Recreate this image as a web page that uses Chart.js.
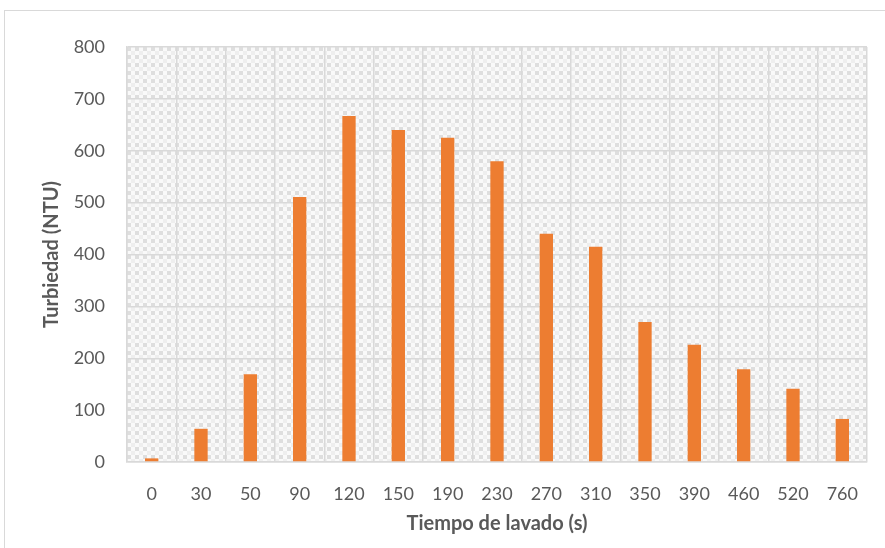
<!DOCTYPE html>
<html>
<head>
<meta charset="utf-8">
<script src="https://cdn.jsdelivr.net/npm/chart.js@4.4.0/dist/chart.umd.min.js"></script>
<style>
  html, body { margin: 0; padding: 0; background: #fff; }
  #wrap { width: 885px; height: 548px; }
</style>
</head>
<body>
<div id="wrap"><canvas id="c" width="885" height="548"></canvas></div>
<script>
const tiempos = ['0', '30', '50', '90', '120', '150', '190', '230', '270', '310', '350', '390', '460', '520', '760'];
const turbiedad = [7, 64, 169, 511, 667, 640, 625, 580, 440, 415, 270, 226, 179, 141, 83];
const yTicks = [0, 100, 200, 300, 400, 500, 600, 700, 800];

// checker pattern for the plot area
const tile = document.createElement('canvas');
tile.width = 8;
tile.height = 8;
const tctx = tile.getContext('2d');
tctx.fillStyle = '#f9f9f9';
tctx.fillRect(0, 0, 8, 8);
tctx.fillStyle = '#dedede';
tctx.fillRect(0, 0, 4, 4);
tctx.fillStyle = '#eeeeee';
tctx.fillRect(4, 4, 4, 4);

const backdrop = {
  id: 'backdrop',
  beforeDraw(chart) {
    const { ctx, chartArea: a } = chart;
    ctx.save();
    ctx.strokeStyle = '#d9d9d9';
    ctx.lineWidth = 1;
    ctx.strokeRect(4.5, 10.5, 885, 540);
    ctx.translate(a.left, a.top);
    ctx.fillStyle = ctx.createPattern(tile, 'repeat');
    ctx.fillRect(0, 0, a.right - a.left, a.bottom - a.top);
    ctx.restore();
  }
};

const font = "Lato, 'Open Sans', sans-serif";

new Chart(document.getElementById('c').getContext('2d'), {
  type: 'bar',
  data: {
    labels: tiempos,
    datasets: [{
      label: 'Turbiedad (NTU)',
      data: turbiedad,
      backgroundColor: '#ed7d31',
      borderWidth: 0,
      categoryPercentage: 1,
      barPercentage: 0.27
    }]
  },
  options: {
    responsive: false,
    animation: false,
    layout: { padding: { left: 36, top: 47, right: 18, bottom: 8 } },
    plugins: {
      legend: { display: false },
      tooltip: { enabled: false }
    },
    scales: {
      x: {
        grid: { color: '#d9d9d9', lineWidth: 1.5, drawTicks: false, offset: true },
        border: { color: '#d9d9d9', width: 1.5 },
        ticks: { color: '#595959', font: { family: font, size: 18 }, padding: 21 },
        title: {
          display: true,
          text: 'Tiempo de lavado (s)',
          color: '#595959',
          font: { family: font, size: 20, weight: 'bold' },
          padding: { top: 4, bottom: 4 }
        },
        afterFit(s) { s.height = 78; }
      },
      y: {
        min: 0,
        max: 800,
        afterBuildTicks(s) { s.ticks = yTicks.map(v => ({ value: v })); },
        grid: { color: '#d9d9d9', lineWidth: 1.5, drawTicks: false },
        border: { color: '#d9d9d9', width: 1.5 },
        ticks: { color: '#595959', font: { family: font, size: 18 }, padding: 22 },
        title: {
          display: true,
          text: 'Turbiedad (NTU)',
          color: '#595959',
          font: { family: font, size: 20, weight: 'bold' },
          padding: { top: 4, bottom: 4 }
        },
        afterFit(s) { s.width = 91; }
      }
    }
  },
  plugins: [backdrop]
});
</script>
</body>
</html>
